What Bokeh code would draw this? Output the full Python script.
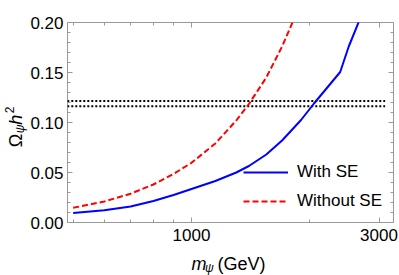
import math
from bokeh.plotting import figure
from bokeh.models import (Range1d, LogAxis, LinearAxis, FixedTicker, PrintfTickFormatter,
                          Legend, LegendItem, CustomLabelingPolicy)
from bokeh.core.properties import value
from bokeh.embed import file_html
from bokeh.resources import INLINE

# ---- data ----
mass_with_se = [500, 600, 700, 800, 900, 1000, 1150, 1300, 1400, 1550, 1700, 1900, 2050, 2200, 2390, 2510, 2670]
omega_with_se = [0.0095, 0.0122, 0.0160, 0.0215, 0.0275, 0.0335, 0.0415, 0.0500, 0.0565, 0.0680,
                 0.0820, 0.1025, 0.1190, 0.1335, 0.1505, 0.1755, 0.2015]

mass_without_se = [500, 600, 700, 800, 900, 1000, 1150, 1300, 1400, 1550, 1700, 1830]
omega_without_se = [0.0147, 0.0210, 0.0288, 0.0380, 0.0485, 0.0597, 0.0790, 0.1020, 0.1185,
                    0.1450, 0.1760, 0.2050]

band_mass = [483, 3110]
band_low = 0.1163
band_high = 0.1216

x_major = [1000, 3000]
x_minor = [500, 600, 700, 800, 900, 2000]
y_major = [0.0, 0.05, 0.10, 0.15, 0.20]
y_minor = [0.01, 0.02, 0.03, 0.04, 0.06, 0.07, 0.08, 0.09, 0.11, 0.12, 0.13, 0.14, 0.16, 0.17, 0.18, 0.19]

X_START, X_END = 483.6, 3266
Y_START, Y_END = 0.0, 0.2

FONT = "Liberation Sans"
GRAY = "#999999"

W, H = 399, 275
p = figure(width=W, height=H, x_axis_type="log",
           x_range=Range1d(X_START, X_END), y_range=Range1d(Y_START, Y_END),
           output_backend="svg", toolbar_location=None,
           min_border_left=67, min_border_right=6, min_border_top=22, min_border_bottom=53)
p.grid.visible = False
p.outline_line_color = GRAY
p.outline_line_width = 1
p.background_fill_color = "white"
p.border_fill_color = "white"

xt = FixedTicker(ticks=x_major, minor_ticks=x_minor)
yt = FixedTicker(ticks=y_major, minor_ticks=y_minor)

bottom = p.below[0]
left = p.left[0]
top = LogAxis(ticker=xt)
right = LinearAxis(ticker=yt)
p.add_layout(top, "above")
p.add_layout(right, "right")

for ax in [bottom, left, top, right]:
    ax.axis_line_color = None
    ax.major_tick_in = 5
    ax.major_tick_out = 0
    ax.minor_tick_in = 3
    ax.minor_tick_out = 0
    ax.major_tick_line_color = GRAY
    ax.minor_tick_line_color = GRAY
    ax.major_label_text_font = FONT
    ax.major_label_text_font_size = "17px"
    ax.major_label_text_color = "black"

# mirror axes: ticks only, no labels
no_labels = CustomLabelingPolicy(code="for (const i of indices) indices.unset(i)")
for ax in [top, right]:
    ax.major_label_text_font_size = "0px"
    ax.major_label_standoff = 0
    ax.major_label_policy = no_labels

bottom.ticker = xt
left.ticker = yt
left.formatter = PrintfTickFormatter(format="%.2f")
left.major_label_standoff = 4
bottom.major_label_standoff = 6

# reference band
p.line(band_mass, [band_high] * len(band_mass), line_color="black", line_width=2, line_dash="2 2")
p.line(band_mass, [band_low] * len(band_mass), line_color="black", line_width=2, line_dash="2 2")

r_red = p.line(mass_without_se, omega_without_se, line_color="#ff0000", line_width=2, line_dash="6 3")
r_blue = p.line(mass_with_se, omega_with_se, line_color="#0000ff", line_width=2)

legend = Legend(items=[LegendItem(label="With SE", renderers=[r_blue]),
                       LegendItem(label="Without SE", renderers=[r_red])],
                location=(176, 11), padding=0, margin=0, spacing=9,
                glyph_width=45, glyph_height=20, label_height=20, label_standoff=9,
                border_line_color=None, background_fill_alpha=0,
                label_text_font=FONT, label_text_font_size="17px", label_text_color="black")
p.add_layout(legend)

# axis titles, built from pieces (for sub/superscripts); offsets in px from the
# frame's bottom-left corner, drawn on the overlay level so they are not clipped
FL, FB = 67, 222.3  # frame left / bottom in canvas pixels


def piece(px, py, text, size, style="normal", angle=0.0):
    p.text(x=[X_START], y=[Y_START], text=[text], angle=angle,
           x_offset=px - FL, y_offset=py - FB,
           text_font=value(FONT), text_font_size=value(size), text_font_style=style,
           text_color="black", text_align="left", text_baseline="alphabetic",
           level="overlay")


A = math.pi / 2
piece(15, 147, "Ω", "18px", "normal", A)
piece(19, 133, "ψ", "12px", "italic", A)
piece(15, 124.5, "h", "18px", "italic", A)
piece(9, 113, "2", "12px", "normal", A)

piece(191, 264, "m", "18px", "italic")
piece(204.5, 268, "ψ", "12px", "italic")
piece(217, 264, "(GeV)", "18px", "normal")

open("out.html", "w").write(file_html(p, INLINE))
